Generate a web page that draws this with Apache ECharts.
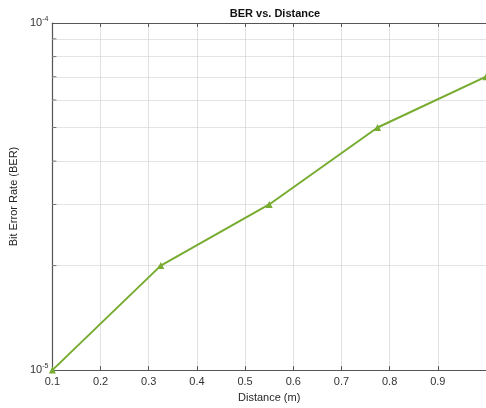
<!DOCTYPE html>
<html><head><meta charset="utf-8">
<script src="https://cdn.jsdelivr.net/npm/echarts@6/dist/echarts.min.js"></script>
<style>html,body{margin:0;padding:0;background:#fff}#c{width:486px;height:408px}</style>
</head><body><div id="c"></div>
<script>
var distance = [0.1, 0.325, 0.55, 0.775, 1.0];
var ber = [1e-5, 2e-5, 3e-5, 5e-5, 7e-5];
var minorY = [2e-5, 3e-5, 4e-5, 5e-5, 6e-5, 7e-5, 8e-5, 9e-5];
var xTicks = [0.1, 0.2, 0.3, 0.4, 0.5, 0.6, 0.7, 0.8, 0.9, 1.0];

var font = 'Liberation Sans, Arial, sans-serif';
var chart = echarts.init(document.getElementById('c'));
chart.setOption({
  animation: false,
  title: {text: 'BER vs. Distance', left: 270, top: 3, textAlign: 'center',
    textStyle: {fontSize: 11, fontWeight: 'bold', color: '#111', fontFamily: font}},
  grid: {left: 50, top: 23, width: 441, height: 350, show: false},
  xAxis: [{
    type: 'value', min: 0.1, max: 1.0, interval: 0.1,
    name: 'Distance (m)', nameLocation: 'middle', nameGap: 20,
    nameTextStyle: {fontSize: 11, color: '#262626', fontFamily: font},
    axisLine: {lineStyle: {color: '#555', width: 1.2}},
    axisTick: {inside: true, length: 4, lineStyle: {color: '#555'}},
    axisLabel: {fontSize: 11, color: '#333', fontFamily: font, margin: 6, showMaxLabel: false,
      formatter: function (v) { return v.toFixed(1); }},
    splitLine: {show: true, lineStyle: {color: '#e2e2e2', width: 1}}
  }, {
    type: 'value', position: 'top', min: 0.1, max: 1.0, interval: 0.1,
    axisLine: {show: true, lineStyle: {color: '#555', width: 1.2}},
    axisTick: {show: true, inside: true, length: 4, lineStyle: {color: '#555'}},
    axisLabel: {show: false}, splitLine: {show: false}
  }],
  yAxis: [{
    type: 'log', logBase: 10, min: 1e-5, max: 1e-4,
    name: 'Bit Error Rate (BER)', nameLocation: 'middle', nameGap: 29,
    nameTextStyle: {fontSize: 11, color: '#262626', fontFamily: font},
    axisLine: {show: true, lineStyle: {color: '#555', width: 1.2}},
    axisTick: {show: true, inside: true, length: 4, lineStyle: {color: '#555'}},
    axisLabel: {fontSize: 11, color: '#333', fontFamily: font, margin: 4,
      formatter: function (v) { var e = Math.round(Math.log10(v)); return '10{s|' + e + '}'; },
      rich: {s: {fontSize: 7, verticalAlign: 'top', padding: [0, 0, 8, 0], color: '#333', fontFamily: font}}},
    splitLine: {show: false}
  }],
  series: [{
    type: 'scatter', xAxisIndex: 0, yAxisIndex: 0, silent: true,
    data: minorY.map(function (v) { return [0.1, v]; }),
    symbol: 'rect', symbolSize: [4, 1], symbolOffset: [2, 0],
    itemStyle: {color: '#555'}, z: 5
  }, {
    type: 'line', xAxisIndex: 0, yAxisIndex: 0,
    data: distance.map(function (d, i) { return [d, ber[i]]; }),
    symbol: 'triangle', symbolSize: 7, showSymbol: true,
    lineStyle: {color: '#77AC30', width: 2},
    itemStyle: {color: '#77AC30'}, z: 10,
    markLine: {
      silent: true, symbol: ['none', 'none'], label: {show: false}, z: 1,
      lineStyle: {color: '#c8c8c8', type: 'dotted', width: 1},
      emphasis: {disabled: true},
      data: minorY.map(function (v) { return [{coord: [0.1, v]}, {coord: [1.0, v]}]; })
    }
  }]
});
</script></body></html>
